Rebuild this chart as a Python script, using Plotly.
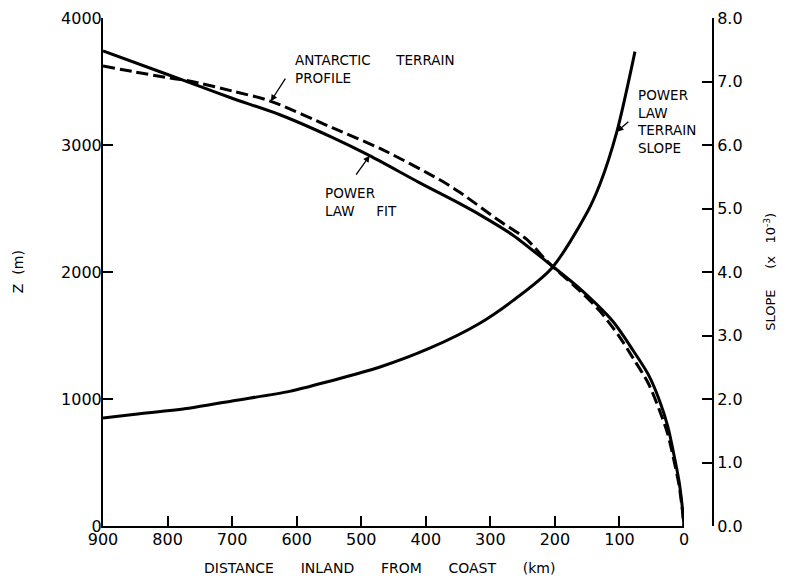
import plotly.graph_objects as go

# Power law fit (solid): distance inland (km) vs elevation Z (m)
fit_km = [900, 800, 751, 700, 627, 545, 487, 410, 348, 316, 265, 205, 161, 110, 78.6, 55, 37.2, 25, 16.6, 8, 3.6, 0]
fit_z = [3741, 3555, 3463, 3368, 3240, 3060, 2916, 2704, 2540, 2450, 2290, 2050, 1867, 1610, 1380, 1190, 977, 780, 585, 360, 192, 0]

# Antarctic terrain profile (dashed)
prof_km = [900, 850, 800, 779, 752, 700, 642, 545, 467, 379, 348, 286, 244, 215, 205, 161, 130, 100, 78.6, 55, 37.2, 25, 16.6, 8, 3.6, 0]
prof_z = [3622, 3575, 3530, 3515, 3489, 3425, 3348, 3136, 2963, 2728, 2630, 2403, 2258, 2100, 2050, 1850, 1690, 1490, 1320, 1120, 900, 720, 540, 330, 170, 0]

# Power law terrain slope (x 10^-3), right axis
slope_km = [900, 850, 767, 700, 611, 549, 472, 394, 317, 265, 205, 151, 130, 104, 76]
slope_v = [1.70, 1.76, 1.855, 1.97, 2.12, 2.28, 2.50, 2.80, 3.19, 3.55, 4.06, 4.92, 5.39, 6.21, 7.47]

x_ticks = [900, 800, 700, 600, 500, 400, 300, 200, 100, 0]
z_ticks = [0, 1000, 2000, 3000, 4000]
s_ticks = [0, 1, 2, 3, 4, 5, 6, 7, 8]
s_labels = ["0.0", "1.0", "2.0", "3.0", "4.0", "5.0", "6.0", "7.0", "8.0"]

FONT = "DejaVu Sans"
NB = "\u00a0"

fig = go.Figure()
fig.add_trace(go.Scatter(x=fit_km, y=fit_z, mode="lines",
                         line=dict(color="black", width=3, shape="spline", smoothing=0.8),
                         xaxis="x", yaxis="y", showlegend=False))
fig.add_trace(go.Scatter(x=prof_km, y=prof_z, mode="lines",
                         line=dict(color="black", width=3, dash="12px,5px", shape="spline", smoothing=0.8),
                         xaxis="x", yaxis="y", showlegend=False))
fig.add_trace(go.Scatter(x=slope_km, y=slope_v, mode="lines",
                         line=dict(color="black", width=3, shape="spline", smoothing=0.8),
                         xaxis="x", yaxis="y2", showlegend=False))

axfont = dict(family=FONT, size=16, color="black")
common = dict(ticks="inside", ticklen=10, tickwidth=1.5, tickcolor="black", showline=True,
              linecolor="black", linewidth=2, showgrid=False, zeroline=False, tickfont=axfont,
              automargin=False, ticklabeloverflow="allow")
# margins compensate for the page's default 8px body offset
fig.update_layout(
    width=787, height=576,
    margin=dict(l=95, r=82, t=10, b=58, autoexpand=False),
    paper_bgcolor="white", plot_bgcolor="white",
    font=dict(family=FONT, color="black"),
    xaxis=dict(domain=[0, 0.9525], range=[900, 0], tickvals=x_ticks, ticklabelstandoff=-2, **common),
    yaxis=dict(range=[0, 4000], tickvals=z_ticks, anchor="x", ticklabelstandoff=-4, **common),
    yaxis2=dict(range=[0, 8], tickvals=s_ticks, ticktext=s_labels, overlaying="y", side="right",
                anchor="free", position=1.0, **common),
)

lab = dict(family=FONT, size=13.5, color="black")
ttl = dict(family=FONT, size=14, color="black")
arrow = dict(showarrow=True, arrowhead=2, arrowsize=1, arrowwidth=1.3, arrowcolor="black")

ann = [
    # axis titles
    dict(text="Z" + NB * 2 + "(m)", xref="paper", yref="paper", x=-0.139, y=0.5, textangle=-90,
         xanchor="center", yanchor="middle", showarrow=False, font=ttl),
    dict(text="SLOPE" + NB * 5 + "(x" + NB * 3 + "10<sup>-3</sup>)", xref="paper", yref="paper",
         x=1.093, y=0.5, textangle=-90, xanchor="center", yanchor="middle", showarrow=False,
         font=dict(family=FONT, size=13, color="black")),
    dict(text="DISTANCE" + NB * 6 + "INLAND" + NB * 6 + "FROM" + NB * 6 + "COAST" + NB * 6 + "(km)",
         xref="paper", yref="paper", x=0.454, y=-0.082, xanchor="center", yanchor="middle",
         showarrow=False, font=ttl),
    # curve labels
    dict(text="ANTARCTIC" + NB * 6 + "TERRAIN<br>PROFILE", xref="paper", yref="paper",
         x=0.3115, y=0.937, xanchor="left", yanchor="top", align="left", showarrow=False, font=lab),
    dict(text="POWER<br>LAW" + NB * 5 + "FIT", xref="paper", yref="paper",
         x=0.3607, y=0.675, xanchor="left", yanchor="top", align="left", showarrow=False, font=lab),
    dict(text="POWER<br>LAW<br>TERRAIN<br>SLOPE", xref="paper", yref="paper",
         x=0.872, y=0.868, xanchor="left", yanchor="top", align="left", showarrow=False, font=lab),
    # arrows pointing at the curves
    dict(text=" ", x=640, y=3345, xref="x", yref="y", ax=18, ay=-28, **arrow),
    dict(text=" ", x=487, y=2916, xref="x", yref="y", ax=-17, ay=24, **arrow),
    dict(text=" ", x=104, y=6.21, xref="x", yref="y2", ax=15, ay=-13, **arrow),
]
fig.update_layout(annotations=ann)

fig.write_html("out.html")
